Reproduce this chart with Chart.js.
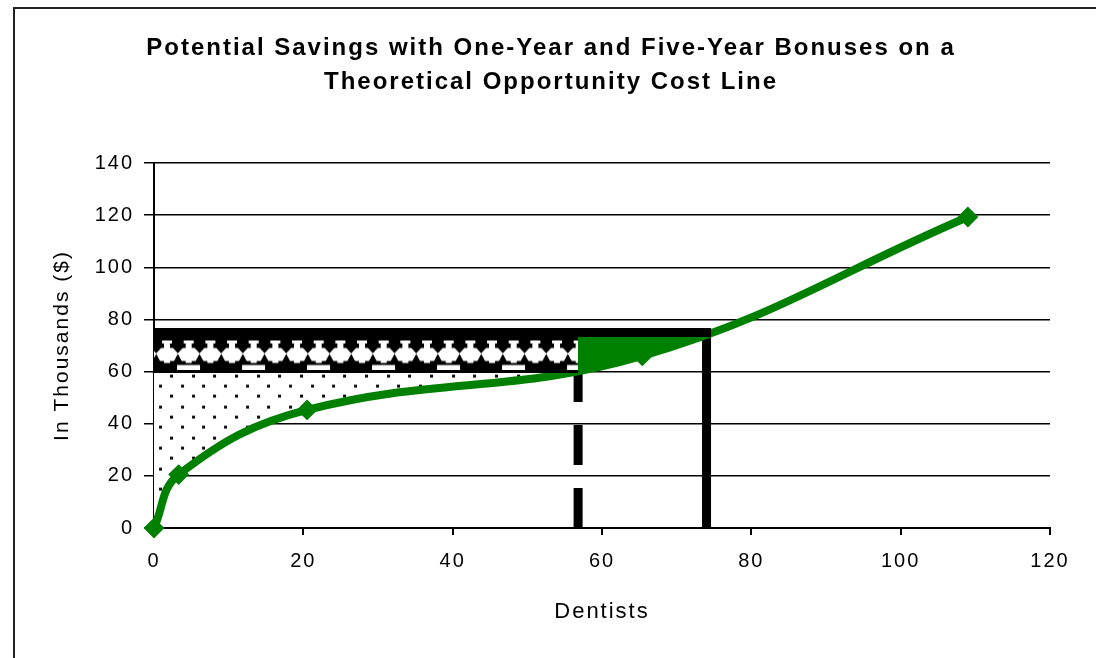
<!DOCTYPE html>
<html>
<head>
<meta charset="utf-8">
<script src="https://cdn.jsdelivr.net/npm/chart.js@4"></script>
<style>
  html, body { margin: 0; padding: 0; background: #fff; }
  #frame { position: absolute; left: 13px; top: 7px; width: 1200px; height: 800px; border: 2px solid #222; }
  #chart { position: absolute; left: 0; top: 0; }
</style>
</head>
<body>
<div id="frame"></div>
<canvas id="chart" width="1096" height="658"></canvas>
<script>
// Curva teorica del costo opportunità (dentisti -> migliaia di $)
const dentists = [0, 3.3, 20.5, 65.4, 109];
const costThousands = [0, 20.5, 45.3, 66, 119.3];
// Bonus di un anno e di cinque anni (migliaia di $)
const bonusThousands = [60, 75];
// Numero di dentisti dove finiscono le due zone
const breakEvenDentists = [56.8, 74];
// Tacche degli assi
const xTicks = [0, 20, 40, 60, 80, 100, 120];
const yTicks = [0, 20, 40, 60, 80, 100, 120, 140];

const GREEN = '#008000';
const FONT = "'Liberation Sans', Arial, sans-serif";

const curvePoints = dentists.map((d, i) => ({ x: d, y: costThousands[i] }));

// Motivo a puntini (sfondo bianco, copre la griglia)
function dotPattern(chart) {
  const c = document.createElement('canvas');
  c.width = 65; c.height = 62;
  const g = c.getContext('2d');
  g.fillStyle = '#fff';
  g.fillRect(0, 0, c.width, c.height);
  g.fillStyle = '#111';
  for (let r = 0; r < 6; r++) {
    for (let k = 0; k < 3; k++) {
      const px = Math.round(k * 65 / 3 + (r % 2 ? 65 / 6 : 0) + 2);
      const py = Math.round(r * 62 / 6 + 2);
      g.fillRect(px - 1, py - 1, 3, 3);
    }
  }
  const p = chart.ctx.createPattern(c, 'repeat');
  const { x, y } = chart.scales;
  p.setTransform(new DOMMatrix().translate(x.getPixelForValue(0) + 4, y.getPixelForValue(bonusThousands[0]) + 12));
  return p;
}

// Motivo nero con "vasi" bianchi e trattini
function hatchPattern(chart) {
  const { x, y } = chart.scales;
  const top = y.getPixelForValue(bonusThousands[1]);
  const h = Math.round(y.getPixelForValue(bonusThousands[0]) - top) + 2;
  const c = document.createElement('canvas');
  c.width = 65; c.height = h;
  const g = c.getContext('2d');
  g.fillStyle = '#000';
  g.fillRect(0, 0, c.width, h);
  g.fillStyle = '#fff';
  for (let k = 0; k < 3; k++) {
    const cx = 11 + k * 65 / 3;
    g.fillRect(cx - 5, 8, 10, 3);
    g.fillRect(cx - 3, 11, 6, 5);
    g.beginPath();
    g.moveTo(cx - 11, 21);
    g.lineTo(cx - 6, 15.5);
    g.lineTo(cx + 6, 15.5);
    g.lineTo(cx + 11, 21);
    g.lineTo(cx + 7, 28.5);
    g.lineTo(cx - 7, 28.5);
    g.closePath();
    g.fill();
    g.fillRect(cx - 3, 28, 6, 2.5);
  }
  g.fillRect(21, 32.5, 23, 6);
  const p = chart.ctx.createPattern(c, 'repeat');
  p.setTransform(new DOMMatrix().translate(x.getPixelForValue(0) + 2, top));
  return p;
}

// Crea i motivi quando le scale sono pronte
const patternPlugin = {
  id: 'patterns',
  afterLayout(chart) {
    const ds = chart.data.datasets;
    ds[2].backgroundColor = dotPattern(chart);
    ds[1].backgroundColor = hatchPattern(chart);
  }
};

// Spaziatura lettere come nel grafico originale
const spacingPlugin = {
  id: 'spacing',
  beforeUpdate(chart) { chart.ctx.letterSpacing = '2px'; },
  beforeDraw(chart) { chart.ctx.letterSpacing = '2px'; }
};

const lineDefaults = { showLine: true, pointRadius: 0, tension: 0, borderColor: '#000', borderWidth: 9 };

new Chart(document.getElementById('chart'), {
  type: 'scatter',
  data: {
    datasets: [
      { // linea orizzontale del bonus di cinque anni
        ...lineDefaults,
        data: [{ x: 0, y: bonusThousands[1] }, { x: breakEvenDentists[1], y: bonusThousands[1] }],
        borderCapStyle: 'square',
        order: 0
      },
      { // rettangolo tra i due bonus
        ...lineDefaults,
        data: [{ x: 0, y: bonusThousands[0] }, { x: breakEvenDentists[0], y: bonusThousands[0] }],
        borderWidth: 3,
        backgroundColor: '#000',
        fill: { target: { value: bonusThousands[1] } },
        order: 1
      },
      { // curva del costo opportunità, puntini fino al bonus di un anno
        data: curvePoints,
        showLine: true,
        borderColor: GREEN,
        backgroundColor: '#fff',
        borderWidth: 8,
        tension: 0.4,
        pointStyle: 'rectRot',
        pointRadius: 9,
        pointBorderWidth: 2,
        pointBackgroundColor: GREEN,
        pointBorderColor: GREEN,
        fill: 1,
        clip: false,
        order: 2
      },
      { // verticale continua
        ...lineDefaults,
        data: [{ x: breakEvenDentists[1], y: 0 }, { x: breakEvenDentists[1], y: bonusThousands[1] }],
        borderCapStyle: 'square',
        order: 3
      },
      { // verticale tratteggiata
        ...lineDefaults,
        data: [{ x: breakEvenDentists[0], y: 0 }, { x: breakEvenDentists[0], y: bonusThousands[0] }],
        borderDash: [40, 23],
        order: 4
      },
      { // zona verde tra curva e bonus di cinque anni
        data: curvePoints,
        showLine: true,
        borderWidth: 0,
        borderColor: 'rgba(0,0,0,0)',
        backgroundColor: GREEN,
        pointRadius: 0,
        tension: 0.4,
        fill: 0,
        order: 5
      }
    ]
  },
  options: {
    responsive: false,
    animation: false,
    events: [],
    layout: { padding: { left: 6, right: 0, top: 0, bottom: 0 } },
    plugins: {
      legend: { display: false },
      tooltip: { enabled: false },
      title: {
        display: true,
        text: ['Potential Savings with One-Year and Five-Year Bonuses on a', 'Theoretical Opportunity Cost Line'],
        color: '#000',
        font: { family: FONT, size: 24, weight: 'bold', lineHeight: '34px' },
        padding: { top: 31, bottom: 64 }
      }
    },
    scales: {
      x: {
        type: 'linear',
        min: xTicks[0],
        max: xTicks[xTicks.length - 1],
        afterFit: s => { s.height = 130; },
        ticks: { stepSize: xTicks[1] - xTicks[0], color: '#000', padding: 14, font: { family: FONT, size: 20 } },
        grid: { drawOnChartArea: false, color: '#000', lineWidth: 2, tickLength: 7 },
        border: { color: '#000', width: 2 },
        title: { display: true, text: 'Dentists', color: '#000', font: { family: FONT, size: 22 }, padding: { top: 0, bottom: 33 } }
      },
      y: {
        min: yTicks[0],
        max: yTicks[yTicks.length - 1],
        afterFit: s => { s.width = 148; },
        ticks: { stepSize: yTicks[1] - yTicks[0], color: '#000', padding: 10, font: { family: FONT, size: 20 } },
        grid: { color: '#000', lineWidth: 1.5, tickLength: 10 },
        border: { color: '#000', width: 2 },
        title: { display: true, text: 'In Thousands ($)', color: '#000', font: { family: FONT, size: 21 }, padding: { top: 44, bottom: 0 } }
      },
      yRight: { // margine destro vuoto
        position: 'right',
        min: yTicks[0],
        max: yTicks[yTicks.length - 1],
        afterFit: s => { s.width = 46; },
        ticks: { display: false },
        grid: { display: false, drawTicks: false },
        border: { display: false }
      }
    }
  },
  plugins: [patternPlugin, spacingPlugin]
});
</script>
</body>
</html>
